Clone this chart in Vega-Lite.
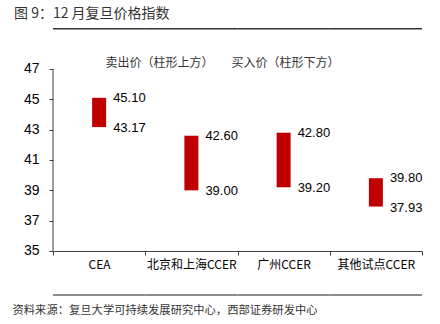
{
  "$schema": "https://vega.github.io/schema/vega-lite/v6.json",
  "width": 369,
  "height": 268,
  "autosize": "none",
  "padding": {"left": 53, "top": 28, "right": 18, "bottom": 28},
  "background": "white",
  "title": {
    "text": "图 9：12 月复旦价格指数",
    "anchor": "start",
    "frame": "group",
    "dx": -39,
    "offset": 7,
    "fontSize": 14,
    "font": "Noto Sans CJK SC",
    "fontWeight": "normal",
    "color": "#333333"
  },
  "config": {
    "view": {"stroke": null},
    "axisY": {"labelOverlap": false, "labelFont": "Liberation Sans", "labelFontSize": 14, "labelColor": "#000000", "labelPadding": 10, "tickSize": 4, "tickColor": "#404040", "domain": false, "grid": false}
  },
  "datasets": {
    "prices": [
      {"cat": "CEA", "high": 45.10, "low": 43.17},
      {"cat": "北京和上海CCER", "high": 42.60, "low": 39.00},
      {"cat": "广州CCER", "high": 42.80, "low": 39.20},
      {"cat": "其他试点CCER", "high": 39.80, "low": 37.93}
    ],
    "yline": [{"from": 35, "to": 47}]
  },
  "data": {"name": "prices"},
  "resolve": {"axis": {"x": "independent"}},
  "layer": [
    {
      "mark": {"type": "bar", "color": "#C00000", "width": 14},
      "encoding": {
        "x": {
          "field": "cat", "type": "nominal", "sort": null,
          "scale": {"paddingInner": 0, "paddingOuter": 0},
          "axis": {
            "orient": "bottom", "offset": -45, "labelAngle": 0,
            "tickBand": "extent", "tickSize": 4, "tickColor": "#404040",
            "domainColor": "#404040", "labelFont": "Noto Sans CJK SC",
            "labelFontSize": 12, "labelColor": "#000000", "labelPadding": 4,
            "title": "资料来源：复旦大学可持续发展研究中心，西部证券研发中心",
            "titleX": -41, "titleY": 59, "titleAlign": "left", "titleBaseline": "middle",
            "titleFont": "Noto Sans CJK SC", "titleFontSize": 11.3, "titleFontWeight": "normal",
            "titleColor": "#333333"
          }
        },
        "y": {
          "field": "low", "type": "quantitative",
          "scale": {"domain": [32.033, 49.703], "nice": false, "zero": false},
          "axis": {"title": null, "values": [35, 37, 39, 41, 43, 45, 47], "labelOverlap": false}
        },
        "y2": {"field": "high"}
      }
    },
    {
      "mark": {"type": "text", "align": "left", "baseline": "middle", "dx": 14, "font": "Liberation Sans", "fontSize": 13, "color": "#000000"},
      "encoding": {
        "x": {"field": "cat", "type": "nominal", "sort": null, "axis": null},
        "y": {"field": "high", "type": "quantitative", "axis": {"title": null, "values": [35, 37, 39, 41, 43, 45, 47], "labelOverlap": false}},
        "text": {"field": "high", "type": "quantitative", "format": ".2f"}
      }
    },
    {
      "mark": {"type": "text", "align": "left", "baseline": "middle", "dx": 14, "dy": 1, "font": "Liberation Sans", "fontSize": 13, "color": "#000000"},
      "encoding": {
        "x": {"field": "cat", "type": "nominal", "sort": null, "axis": null},
        "y": {"field": "low", "type": "quantitative", "axis": {"title": null, "values": [35, 37, 39, 41, 43, 45, 47], "labelOverlap": false}},
        "text": {"field": "low", "type": "quantitative", "format": ".2f"}
      }
    },
    {
      "data": {"name": "yline"},
      "mark": {"type": "rule", "clip": false, "color": "#404040", "strokeWidth": 1},
      "encoding": {
        "x": {"datum": "CEA", "type": "nominal", "bandPosition": 0, "axis": null},
        "y": {"field": "from", "type": "quantitative", "axis": {"title": null, "values": [35, 37, 39, 41, 43, 45, 47], "labelOverlap": false}},
        "y2": {"field": "to"}
      }
    },
    {
      "mark": {"type": "bar", "color": "#333333", "width": {"band": 1}},
      "encoding": {
        "x": {"field": "cat", "type": "nominal", "sort": null, "axis": null},
        "y": {"datum": 49.703, "type": "quantitative", "axis": {"title": null, "values": [35, 37, 39, 41, 43, 45, 47], "labelOverlap": false}},
        "y2": {"datum": 49.604}
      }
    },
    {
      "mark": {"type": "bar", "color": "#8c8c8c", "width": {"band": 1}},
      "encoding": {
        "x": {"field": "cat", "type": "nominal", "sort": null, "axis": null},
        "y": {"datum": 32.165, "type": "quantitative", "axis": {"title": null, "values": [35, 37, 39, 41, 43, 45, 47], "labelOverlap": false}},
        "y2": {"datum": 32.033}
      }
    },
    {
      "mark": {"type": "bar", "opacity": 0, "width": 1},
      "encoding": {
        "x": {
          "field": "cat", "type": "nominal", "sort": null,
          "axis": {
            "orient": "top", "offset": 0, "ticks": false, "labels": false, "domain": false,
            "title": "卖出价（柱形上方）　　买入价（柱形下方）",
            "titleX": 169, "titleY": 34, "titleAlign": "center", "titleBaseline": "middle",
            "titleFont": "Noto Sans CJK SC", "titleFontSize": 12, "titleFontWeight": "normal",
            "titleColor": "#333333"
          }
        },
        "y": {"field": "low", "type": "quantitative", "axis": {"title": null, "values": [35, 37, 39, 41, 43, 45, 47], "labelOverlap": false}},
        "y2": {"field": "high"}
      }
    }
  ]
}
